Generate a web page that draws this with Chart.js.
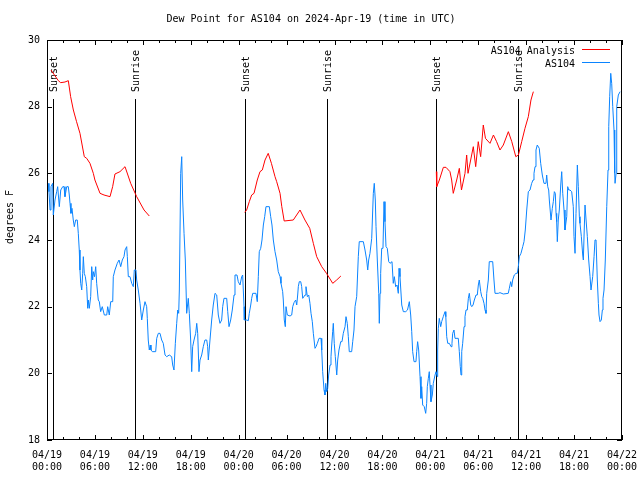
<!DOCTYPE html>
<html>
<head>
<meta charset="utf-8">
<title>Dew Point for AS104</title>
<script src="https://cdn.jsdelivr.net/npm/chart.js@4.4.1/dist/chart.umd.min.js"></script>
<style>
    body { margin: 0; background: #fff; }
    canvas { display: block; }
</style>
</head>
<body>
<canvas id="dewChart" width="640" height="480"></canvas>
<script>
// time axis: hours since 2024-04-19 00:00 UTC
const tickLabels = ['04/19 00:00', '04/19 06:00', '04/19 12:00', '04/19 18:00',
    '04/20 00:00', '04/20 06:00', '04/20 12:00', '04/20 18:00',
    '04/21 00:00', '04/21 06:00', '04/21 12:00', '04/21 18:00', '04/22 00:00'];
const yTicks = [18, 20, 22, 24, 26, 28, 30];

const sunNames = ['Sunset', 'Sunrise', 'Sunset', 'Sunrise', 'Sunset', 'Sunrise'];
const sunHours = [0.79, 11.05, 24.8, 35.08, 48.72, 58.99];

// AS104 Analysis (null = gap between runs)
const analysisHours = [
    0.5, 1.42, 1.71, 2.25, 2.67, 2.96, 3.3, 3.7, 4.13, 4.67, 4.97, 5.38, 5.8, 6.0, 6.64, 7.14,
    7.89, 8.22, 8.51, 9.14, 9.77, 10.48, 11.23, 12.15, 12.81,
    18,
    24.75, 25.0, 25.33, 25.63, 25.92, 26.33, 26.67, 26.96, 27.3, 27.7, 28.1, 28.55, 28.76,
    29.18, 29.4, 29.7, 30.84, 31.68, 32.3, 32.9, 33.35, 33.77, 34.4, 35.0, 35.78, 36.27, 36.8,
    42,
    48.75, 48.8, 49.13, 49.63, 49.96, 50.46, 50.67, 50.87, 51.3, 51.63, 51.9, 52.34, 52.55,
    52.72, 53.38, 53.68, 54.0, 54.3, 54.63, 54.9, 55.47, 55.9, 56.3, 56.72, 57.14, 57.77,
    58.2, 58.7, 59.03, 59.44, 59.85, 60.27, 60.6, 60.9
];
const analysisDewPt = [
    29.1, 28.78, 28.72, 28.74, 28.78, 28.3, 27.9, 27.55, 27.2, 26.5, 26.45, 26.3, 26.0, 25.8, 25.4, 25.35,
    25.3, 25.6, 25.98, 26.05, 26.2, 25.7, 25.3, 24.9, 24.72,
    null,
    24.83, 24.9, 25.15, 25.35, 25.4, 25.8, 26.05, 26.1, 26.4, 26.6, 26.3, 25.9, 25.75,
    25.4, 25.0, 24.57, 24.6, 24.9, 24.6, 24.35, 23.9, 23.5, 23.2, 23.0, 22.7, 22.8, 22.92,
    null,
    26.05, 25.6, 25.8, 26.18, 26.18, 26.05, 25.8, 25.4, 25.8, 26.15, 25.5, 26.0, 26.55,
    26.0, 26.8, 26.2, 26.95, 26.5, 27.45, 27.05, 26.9, 27.15, 26.95, 26.7, 26.85, 27.25,
    26.95, 26.5, 26.55, 26.95, 27.35, 27.7, 28.2, 28.45
];

// AS104 observations
const obsHours = [
    0.16, 0.25, 0.38, 0.5, 0.71, 0.79, 1.0, 1.21, 1.34, 1.54, 1.72, 1.97, 2.13, 2.25, 2.47, 2.67,
    2.79, 2.88, 3.0, 3.13, 3.29, 3.42, 3.59, 3.79, 3.92, 4.04, 4.13, 4.22, 4.35, 4.47, 4.55, 4.67,
    4.8, 4.97, 5.1, 5.17, 5.3, 5.47, 5.6, 5.72, 5.8, 5.95, 6.1, 6.22, 6.42, 6.55, 6.72, 6.92,
    7.18, 7.48, 7.6, 7.8, 7.98, 8.23, 8.3, 8.51, 8.8, 9.02, 9.23, 9.43, 9.64, 9.77, 9.98, 10.06,
    10.18, 10.39, 10.61, 10.81, 10.93, 11.14, 11.23, 11.43, 11.65, 11.86, 12.06, 12.27, 12.48, 12.56, 12.68, 12.81,
    12.93, 13.02, 13.19, 13.61, 13.74, 13.94, 14.15, 14.36, 14.56, 14.78, 14.99, 15.31, 15.61, 15.74, 15.9, 16.07,
    16.24, 16.37, 16.49, 16.57, 16.74, 16.87, 16.99, 17.16, 17.32, 17.49, 17.69, 17.82, 17.99, 18.12, 18.24, 18.41,
    18.62, 18.75, 18.87, 19.03, 19.16, 19.37, 19.57, 19.78, 20.0, 20.12, 20.2, 20.41, 20.62, 20.82, 21.04, 21.25,
    21.45, 21.66, 21.87, 22.0, 22.16, 22.5, 22.63, 22.79, 23.0, 23.2, 23.42, 23.54, 23.79, 23.95, 24.17, 24.38,
    24.5, 24.58, 24.67, 24.71, 25.01, 25.21, 25.33, 25.51, 25.63, 25.76, 26.17, 26.33, 26.46, 26.58, 26.76, 26.92,
    27.09, 27.26, 27.42, 27.84, 28.01, 28.17, 28.34, 28.55, 28.76, 28.96, 29.18, 29.3, 29.51, 29.59, 29.71, 29.84,
    29.93, 30.09, 30.43, 30.64, 30.77, 30.93, 31.14, 31.27, 31.39, 31.47, 31.59, 31.77, 31.89, 32.02, 32.31, 32.43,
    32.6, 32.77, 32.93, 33.06, 33.22, 33.35, 33.56, 33.69, 33.85, 34.06, 34.31, 34.4, 34.52, 34.69, 34.81, 34.9,
    35.02, 35.15, 35.27, 35.44, 35.56, 35.65, 35.77, 35.85, 35.97, 36.1, 36.28, 36.4, 36.56, 36.78, 36.94, 37.1,
    37.32, 37.44, 37.6, 37.73, 37.85, 38.15, 38.28, 38.44, 38.57, 38.78, 38.98, 39.1, 39.61, 39.82, 40.03, 40.16,
    40.28, 40.44, 40.66, 40.86, 40.98, 41.11, 41.2, 41.36, 41.54, 41.61, 41.7, 41.78, 41.91, 42.07, 42.2, 42.32,
    42.45, 42.61, 42.79, 42.95, 43.2, 43.36, 43.49, 43.66, 43.83, 43.99, 44.08, 44.2, 44.42, 44.62, 44.92, 45.14,
    45.37, 45.54, 45.67, 45.79, 45.96, 46.2, 46.29, 46.41, 46.54, 46.71, 46.83, 46.92, 47.04, 47.24, 47.42, 47.54,
    47.62, 47.75, 47.87, 47.96, 48.08, 48.25, 48.37, 48.59, 48.71, 48.87, 48.92, 49.0, 49.12, 49.3, 49.42, 49.62,
    49.84, 49.94, 50.05, 50.18, 50.38, 50.59, 50.71, 50.8, 50.96, 51.09, 51.5, 51.63, 51.75, 51.84, 51.93, 52.05,
    52.22, 52.34, 52.47, 52.63, 52.76, 52.88, 53.06, 53.19, 53.35, 53.51, 53.72, 53.88, 54.01, 54.13, 54.31, 54.44,
    54.56, 54.72, 54.85, 54.97, 55.06, 55.26, 55.38, 55.81, 55.97, 56.1, 56.51, 56.72, 57.14, 57.76, 57.89, 58.06,
    58.19, 58.31, 58.51, 58.73, 58.89, 59.02, 59.14, 59.35, 59.57, 59.73, 59.89, 60.07, 60.27, 60.48, 60.69, 60.86,
    60.98, 61.11, 61.23, 61.39, 61.64, 61.82, 62.02, 62.23, 62.48, 62.57, 62.7, 62.82, 62.9, 63.11, 63.27, 63.4,
    63.53, 63.65, 63.74, 63.82, 63.9, 64.02, 64.15, 64.33, 64.45, 64.58, 64.74, 64.86, 65.08, 65.2, 65.33, 65.49,
    65.7, 65.9, 65.99, 66.12, 66.24, 66.41, 66.53, 66.66, 66.74, 66.91, 67.08, 67.16, 67.25, 67.37, 67.5, 67.66,
    67.83, 68.0, 68.12, 68.33, 68.5, 68.62, 68.75, 68.91, 69.04, 69.12, 69.25, 69.41, 69.54, 69.62, 69.75, 69.91,
    70.09, 70.25, 70.34, 70.46, 70.59, 70.71, 70.84, 71.0, 71.09, 71.13, 71.26, 71.34, 71.54, 71.76
];
const obsDewPt = [
    25.7, 25.45, 24.9, 25.6, 25.7, 24.75, 25.2, 25.45, 25.6, 25.0, 25.5, 25.6, 25.6, 25.3, 25.6, 25.6,
    25.35, 25.1, 24.8, 24.95, 24.6, 24.4, 24.6, 24.6, 24.2, 23.7, 23.1, 22.7, 22.5, 23.0, 23.5, 23.0,
    22.9, 22.6, 21.95, 22.2, 21.95, 22.3, 23.2, 22.8, 23.05, 22.9, 23.2, 22.7, 22.2, 22.15, 21.85, 22.0,
    21.75, 21.75, 22.0, 21.75, 22.15, 22.15, 22.9, 23.1, 23.3, 23.4, 23.2, 23.4, 23.5, 23.7, 23.8, 23.5,
    22.9, 22.9, 22.7, 22.6, 23.1, 23.1, 22.8, 22.5, 22.1, 21.6, 21.9, 22.15, 22.0, 21.65, 21.0, 20.7,
    20.85, 20.7, 20.65, 20.65, 21.05, 21.2, 21.2, 21.0, 20.9, 20.55, 20.5, 20.55, 20.5, 20.25, 20.1, 20.9,
    21.5, 21.9, 21.8, 22.5, 26.0, 26.5, 25.2, 24.2, 23.4, 21.8, 22.25, 21.8, 21.0, 20.05, 20.8, 21.0,
    21.2, 21.5, 21.2, 20.05, 20.4, 20.55, 20.8, 21.0, 21.0, 20.8, 20.4, 21.0, 21.6, 22.05, 22.4, 22.35,
    21.75, 21.5, 21.6, 22.0, 22.25, 22.25, 21.85, 21.4, 21.6, 21.9, 22.35, 22.95, 22.95, 22.75, 22.65, 22.9,
    22.95, 22.5, 22.0, 21.6, 21.6, 21.58, 21.8, 22.05, 22.25, 22.4, 22.4, 22.15, 22.9, 23.65, 23.75, 24.0,
    24.45, 24.7, 25.0, 25.0, 24.7, 24.45, 24.0, 23.65, 23.4, 23.05, 22.9, 22.7, 22.45, 22.2, 21.6, 21.4,
    22.0, 21.75, 21.72, 21.75, 22.0, 22.12, 22.2, 22.05, 22.35, 22.6, 22.75, 22.75, 22.6, 22.25, 22.35, 22.6,
    22.3, 22.35, 22.1, 21.8, 21.55, 21.2, 20.75, 20.8, 20.9, 21.05, 21.05, 20.7, 20.05, 19.5, 19.35, 19.7,
    19.45, 19.55, 19.95, 20.25, 20.5, 20.85, 21.25, 21.5, 20.9, 20.5, 19.95, 20.4, 20.7, 20.95, 20.95, 21.2,
    21.4, 21.7, 21.5, 21.1, 20.65, 20.65, 20.95, 21.3, 22.0, 22.3, 23.5, 23.95, 23.95, 23.7, 23.4, 23.1,
    23.4, 23.6, 24.05, 25.4, 25.7, 25.2, 24.4, 23.4, 22.4, 21.5, 22.4, 23.0, 23.75, 23.75, 25.15, 24.55,
    23.8, 23.75, 23.35, 23.3, 23.35, 22.7, 22.9, 22.6, 22.65, 22.4, 23.15, 22.9, 22.05, 21.85, 21.85, 21.9,
    22.15, 21.75, 21.25, 20.65, 20.35, 20.35, 20.65, 20.95, 20.7, 19.9, 19.25, 19.6, 19.05, 19.0, 18.8, 19.1,
    19.6, 19.85, 20.05, 19.65, 19.15, 19.35, 19.7, 19.95, 20.05, 19.9, 20.7, 21.35, 21.65, 21.4, 21.55, 21.7,
    21.85, 21.7, 21.1, 20.9, 20.9, 20.8, 20.9, 21.2, 21.3, 21.05, 21.05, 20.65, 20.2, 19.95, 20.65, 20.9,
    21.4, 21.7, 21.9, 21.9, 22.25, 22.4, 22.05, 22.0, 22.05, 22.2, 22.35, 22.35, 22.65, 22.8, 22.45, 22.3,
    22.25, 22.1, 21.9, 21.8, 22.4, 22.8, 23.35, 23.35, 22.8, 22.4, 22.4, 22.42, 22.38, 22.4, 22.55, 22.75,
    22.6, 22.8, 22.95, 23.0, 23.0, 23.2, 23.5, 23.6, 23.8, 23.95, 24.3, 24.9, 25.45, 25.5, 25.7, 25.8,
    26.0, 26.2, 26.7, 26.85, 26.75, 26.3, 25.95, 25.7, 25.7, 25.95, 25.6, 25.5, 25.2, 24.6, 24.95, 25.15,
    25.45, 25.4, 24.8, 24.55, 23.95, 24.6, 24.9, 25.65, 26.05, 25.4, 24.9, 24.3, 24.7, 25.6, 25.5, 25.5,
    25.45, 25.0, 24.1, 23.6, 24.8, 26.25, 25.6, 24.7, 24.5, 24.1, 23.55, 23.4, 24.15, 25.05, 24.6, 24.1,
    23.4, 22.9, 22.5, 22.9, 23.5, 24.0, 24.0, 22.8, 22.1, 21.75, 21.55, 21.6, 21.9, 22.25, 22.5, 23.4,
    25.0, 26.1, 27.4, 28.3, 29.0, 28.7, 28.0, 27.3, 26.0, 25.7, 26.0, 28.0, 28.35, 28.45
];

const MONO = 'DejaVu Sans Mono';
const RED = '#ff0000';
const BLUE = '#0a84ff';

function toPoints(xs, ys) {
    return xs.map((x, i) => ({ x: x, y: ys[i] }));
}

// gnuplot-like frame, inward ticks, sun lines, y label and legend
const gnuplotDecor = {
    id: 'gnuplotDecor',
    beforeDatasetsDraw(chart) {
        const ctx = chart.ctx;
        const a = chart.chartArea;
        const xs = chart.scales.x;
        ctx.save();
        ctx.strokeStyle = '#000';
        ctx.lineWidth = 1;
        ctx.fillStyle = '#000';
        ctx.font = '10px "' + MONO + '"';
        sunHours.forEach((h, i) => {
            const px = Math.round(xs.getPixelForValue(h)) + 0.5;
            ctx.beginPath();
            ctx.moveTo(px, 99);
            ctx.lineTo(px, a.bottom);
            ctx.stroke();
            ctx.save();
            ctx.translate(px + 1, 92);
            ctx.rotate(-Math.PI / 2);
            ctx.textAlign = 'left';
            ctx.textBaseline = 'middle';
            ctx.fillText(sunNames[i], 0, 0);
            ctx.restore();
        });
        ctx.restore();
    },
    afterDraw(chart) {
        const ctx = chart.ctx;
        const a = chart.chartArea;
        const xs = chart.scales.x;
        const ys = chart.scales.y;
        ctx.save();
        ctx.strokeStyle = '#000';
        ctx.lineWidth = 1;
        ctx.strokeRect(a.left + 0.5, a.top + 0.5, a.right - a.left - 1, a.bottom - a.top - 1);

        ctx.beginPath();
        for (let h = 0; h <= 72; h += 2) {
            const px = Math.round(xs.getPixelForValue(h)) + 0.5;
            const len = h % 6 === 0 ? 5 : 3;
            ctx.moveTo(px, a.bottom);
            ctx.lineTo(px, a.bottom - len);
            ctx.moveTo(px, a.top);
            ctx.lineTo(px, a.top + len);
        }
        yTicks.forEach(v => {
            const py = Math.round(ys.getPixelForValue(v)) + 0.5;
            ctx.moveTo(a.left, py);
            ctx.lineTo(a.left + 5, py);
            ctx.moveTo(a.right, py);
            ctx.lineTo(a.right - 5, py);
        });
        ctx.stroke();

        ctx.font = '10px "' + MONO + '"';
        ctx.fillStyle = '#000';

        // y axis label
        ctx.save();
        ctx.translate(10, 217);
        ctx.rotate(-Math.PI / 2);
        ctx.textAlign = 'center';
        ctx.textBaseline = 'middle';
        ctx.fillText('degrees F', 0, 0);
        ctx.restore();

        // legend
        const entries = [['AS104 Analysis', RED], ['AS104', BLUE]];
        ctx.textAlign = 'right';
        ctx.textBaseline = 'middle';
        entries.forEach((e, i) => {
            const y = 50 + i * 13;
            ctx.fillStyle = '#000';
            ctx.fillText(e[0], 575, y + 1);
            ctx.strokeStyle = e[1];
            ctx.beginPath();
            ctx.moveTo(582, y - 0.5);
            ctx.lineTo(610, y - 0.5);
            ctx.stroke();
        });
        ctx.restore();
    }
};

const chart = new Chart(document.getElementById('dewChart'), {
    type: 'line',
    data: {
        datasets: [
            {
                label: 'AS104 Analysis',
                data: toPoints(analysisHours, analysisDewPt),
                borderColor: RED,
                borderWidth: 1,
                pointRadius: 0,
                tension: 0,
                spanGaps: false,
                order: 1
            },
            {
                label: 'AS104',
                data: toPoints(obsHours, obsDewPt),
                borderColor: BLUE,
                borderWidth: 1,
                pointRadius: 0,
                tension: 0,
                order: 0
            }
        ]
    },
    options: {
        responsive: false,
        animation: false,
        layout: { padding: { left: 0, right: 18, top: 0, bottom: 0 } },
        plugins: {
            legend: { display: false },
            tooltip: { enabled: false },
            title: {
                display: true,
                text: 'Dew Point for AS104 on 2024-Apr-19 (time in UTC)',
                color: '#000',
                font: { family: MONO, size: 10, weight: 'normal' },
                padding: { top: 13, bottom: 15 }
            }
        },
        scales: {
            x: {
                type: 'linear',
                min: 0,
                max: 72,
                grid: { display: false, drawTicks: false },
                border: { display: false },
                ticks: {
                    stepSize: 6,
                    autoSkip: false,
                    maxRotation: 0,
                    padding: 9,
                    color: '#000',
                    font: { family: MONO, size: 10 },
                    callback: value => tickLabels[value / 6].split(' ')
                },
                afterFit: scale => {
                    scale.height = 40;
                    scale.paddingLeft = 0;
                    scale.paddingRight = 0;
                }
            },
            y: {
                min: 18,
                max: 30,
                grid: { display: false, drawTicks: false },
                border: { display: false },
                ticks: {
                    stepSize: 2,
                    padding: 7,
                    color: '#000',
                    font: { family: MONO, size: 10 }
                },
                afterFit: scale => { scale.width = 47; }
            }
        }
    },
    plugins: [gnuplotDecor]
});
</script>
</body>
</html>
